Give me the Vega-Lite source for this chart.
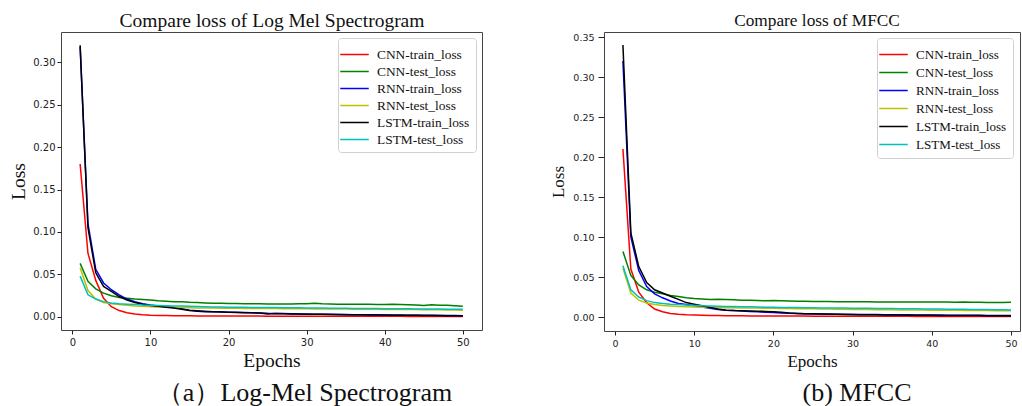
{
"$schema": "https://vega.github.io/schema/vega-lite/v6.json",
"background": "white",
"padding": {"left": 8, "top": 9, "right": 0, "bottom": 0},
"bounds": "flush",
"spacing": 122,
"resolve": {"legend": {"color": "independent"}, "scale": {"color": "independent"}},
"config": {
 "font": "Liberation Serif",
 "view": {"stroke": "#444", "strokeWidth": 1},
 "axis": {"grid": false, "domain": false, "labelFont": "DejaVu Sans", "labelColor": "#222", "tickColor": "#222", "titleFont": "Liberation Serif", "titleFontWeight": "normal", "titleColor": "#111"},
 "title": {"font": "Liberation Serif", "fontWeight": "normal", "color": "#111"},
 "legend": {"symbolType": "M-1.5,0H1.5", "symbolSize": 361, "symbolStrokeWidth": 1.5, "labelFont": "Liberation Serif", "labelColor": "#111", "labelOffset": 12, "strokeColor": "#d0d0d0", "fillColor": "#ffffff", "cornerRadius": 3, "padding": 6, "rowPadding": 0, "offset": 6, "orient": "top-right", "title": null}
},
"datasets": {
"mel": [
{"e":1,"s":"CNN-train_loss","v":0.18},{"e":2,"s":"CNN-train_loss","v":0.075},{"e":3,"s":"CNN-train_loss","v":0.043},{"e":4,"s":"CNN-train_loss","v":0.022},{"e":5,"s":"CNN-train_loss","v":0.012},{"e":6,"s":"CNN-train_loss","v":0.0075},{"e":7,"s":"CNN-train_loss","v":0.005},{"e":8,"s":"CNN-train_loss","v":0.0035},{"e":9,"s":"CNN-train_loss","v":0.0025},{"e":10,"s":"CNN-train_loss","v":0.002},
{"e":11,"s":"CNN-train_loss","v":0.0018},{"e":12,"s":"CNN-train_loss","v":0.0016},{"e":13,"s":"CNN-train_loss","v":0.0015},{"e":14,"s":"CNN-train_loss","v":0.0014},{"e":15,"s":"CNN-train_loss","v":0.0013},{"e":16,"s":"CNN-train_loss","v":0.0012},{"e":17,"s":"CNN-train_loss","v":0.0012},{"e":18,"s":"CNN-train_loss","v":0.0011},{"e":19,"s":"CNN-train_loss","v":0.0011},{"e":20,"s":"CNN-train_loss","v":0.001},
{"e":21,"s":"CNN-train_loss","v":0.001},{"e":22,"s":"CNN-train_loss","v":0.001},{"e":23,"s":"CNN-train_loss","v":0.00095},{"e":24,"s":"CNN-train_loss","v":0.00095},{"e":25,"s":"CNN-train_loss","v":0.0009},{"e":26,"s":"CNN-train_loss","v":0.0009},{"e":27,"s":"CNN-train_loss","v":0.0009},{"e":28,"s":"CNN-train_loss","v":0.00085},{"e":29,"s":"CNN-train_loss","v":0.00085},{"e":30,"s":"CNN-train_loss","v":0.0008},
{"e":31,"s":"CNN-train_loss","v":0.0008},{"e":32,"s":"CNN-train_loss","v":0.0008},{"e":33,"s":"CNN-train_loss","v":0.00078},{"e":34,"s":"CNN-train_loss","v":0.00076},{"e":35,"s":"CNN-train_loss","v":0.00075},{"e":36,"s":"CNN-train_loss","v":0.00074},{"e":37,"s":"CNN-train_loss","v":0.00072},{"e":38,"s":"CNN-train_loss","v":0.0007},{"e":39,"s":"CNN-train_loss","v":0.0007},{"e":40,"s":"CNN-train_loss","v":0.00068},
{"e":41,"s":"CNN-train_loss","v":0.00066},{"e":42,"s":"CNN-train_loss","v":0.00065},{"e":43,"s":"CNN-train_loss","v":0.00064},{"e":44,"s":"CNN-train_loss","v":0.00062},{"e":45,"s":"CNN-train_loss","v":0.0006},{"e":46,"s":"CNN-train_loss","v":0.0006},{"e":47,"s":"CNN-train_loss","v":0.00058},{"e":48,"s":"CNN-train_loss","v":0.00056},{"e":49,"s":"CNN-train_loss","v":0.00055},{"e":50,"s":"CNN-train_loss","v":0.0005},
{"e":1,"s":"CNN-test_loss","v":0.063},{"e":2,"s":"CNN-test_loss","v":0.042},{"e":3,"s":"CNN-test_loss","v":0.033},{"e":4,"s":"CNN-test_loss","v":0.028},{"e":5,"s":"CNN-test_loss","v":0.025},{"e":6,"s":"CNN-test_loss","v":0.023},{"e":7,"s":"CNN-test_loss","v":0.022},{"e":8,"s":"CNN-test_loss","v":0.021},{"e":9,"s":"CNN-test_loss","v":0.0205},{"e":10,"s":"CNN-test_loss","v":0.0198},
{"e":11,"s":"CNN-test_loss","v":0.019},{"e":12,"s":"CNN-test_loss","v":0.0185},{"e":13,"s":"CNN-test_loss","v":0.018},{"e":14,"s":"CNN-test_loss","v":0.0178},{"e":15,"s":"CNN-test_loss","v":0.0172},{"e":16,"s":"CNN-test_loss","v":0.017},{"e":17,"s":"CNN-test_loss","v":0.0165},{"e":18,"s":"CNN-test_loss","v":0.0162},{"e":19,"s":"CNN-test_loss","v":0.016},{"e":20,"s":"CNN-test_loss","v":0.0158},
{"e":21,"s":"CNN-test_loss","v":0.0157},{"e":22,"s":"CNN-test_loss","v":0.0156},{"e":23,"s":"CNN-test_loss","v":0.0156},{"e":24,"s":"CNN-test_loss","v":0.0155},{"e":25,"s":"CNN-test_loss","v":0.0152},{"e":26,"s":"CNN-test_loss","v":0.0153},{"e":27,"s":"CNN-test_loss","v":0.0152},{"e":28,"s":"CNN-test_loss","v":0.0152},{"e":29,"s":"CNN-test_loss","v":0.0154},{"e":30,"s":"CNN-test_loss","v":0.0155},
{"e":31,"s":"CNN-test_loss","v":0.0162},{"e":32,"s":"CNN-test_loss","v":0.0155},{"e":33,"s":"CNN-test_loss","v":0.0152},{"e":34,"s":"CNN-test_loss","v":0.015},{"e":35,"s":"CNN-test_loss","v":0.0148},{"e":36,"s":"CNN-test_loss","v":0.0149},{"e":37,"s":"CNN-test_loss","v":0.015},{"e":38,"s":"CNN-test_loss","v":0.0148},{"e":39,"s":"CNN-test_loss","v":0.0147},{"e":40,"s":"CNN-test_loss","v":0.0146},
{"e":41,"s":"CNN-test_loss","v":0.0148},{"e":42,"s":"CNN-test_loss","v":0.0145},{"e":43,"s":"CNN-test_loss","v":0.0143},{"e":44,"s":"CNN-test_loss","v":0.014},{"e":45,"s":"CNN-test_loss","v":0.0135},{"e":46,"s":"CNN-test_loss","v":0.0142},{"e":47,"s":"CNN-test_loss","v":0.0138},{"e":48,"s":"CNN-test_loss","v":0.0136},{"e":49,"s":"CNN-test_loss","v":0.0132},{"e":50,"s":"CNN-test_loss","v":0.0125},
{"e":1,"s":"RNN-train_loss","v":0.318},{"e":2,"s":"RNN-train_loss","v":0.11},{"e":3,"s":"RNN-train_loss","v":0.056},{"e":4,"s":"RNN-train_loss","v":0.04},{"e":5,"s":"RNN-train_loss","v":0.032},{"e":6,"s":"RNN-train_loss","v":0.026},{"e":7,"s":"RNN-train_loss","v":0.021},{"e":8,"s":"RNN-train_loss","v":0.018},{"e":9,"s":"RNN-train_loss","v":0.0155},{"e":10,"s":"RNN-train_loss","v":0.014},
{"e":11,"s":"RNN-train_loss","v":0.013},{"e":12,"s":"RNN-train_loss","v":0.012},{"e":13,"s":"RNN-train_loss","v":0.011},{"e":14,"s":"RNN-train_loss","v":0.0095},{"e":15,"s":"RNN-train_loss","v":0.008},{"e":16,"s":"RNN-train_loss","v":0.0072},{"e":17,"s":"RNN-train_loss","v":0.0066},{"e":18,"s":"RNN-train_loss","v":0.0062},{"e":19,"s":"RNN-train_loss","v":0.006},{"e":20,"s":"RNN-train_loss","v":0.0056},
{"e":21,"s":"RNN-train_loss","v":0.0054},{"e":22,"s":"RNN-train_loss","v":0.0052},{"e":23,"s":"RNN-train_loss","v":0.005},{"e":24,"s":"RNN-train_loss","v":0.0047},{"e":25,"s":"RNN-train_loss","v":0.0042},{"e":26,"s":"RNN-train_loss","v":0.0041},{"e":27,"s":"RNN-train_loss","v":0.0039},{"e":28,"s":"RNN-train_loss","v":0.0036},{"e":29,"s":"RNN-train_loss","v":0.0034},{"e":30,"s":"RNN-train_loss","v":0.0033},
{"e":31,"s":"RNN-train_loss","v":0.0032},{"e":32,"s":"RNN-train_loss","v":0.0031},{"e":33,"s":"RNN-train_loss","v":0.003},{"e":34,"s":"RNN-train_loss","v":0.0029},{"e":35,"s":"RNN-train_loss","v":0.0028},{"e":36,"s":"RNN-train_loss","v":0.0027},{"e":37,"s":"RNN-train_loss","v":0.0027},{"e":38,"s":"RNN-train_loss","v":0.0026},{"e":39,"s":"RNN-train_loss","v":0.0025},{"e":40,"s":"RNN-train_loss","v":0.0024},
{"e":41,"s":"RNN-train_loss","v":0.0023},{"e":42,"s":"RNN-train_loss","v":0.0022},{"e":43,"s":"RNN-train_loss","v":0.0021},{"e":44,"s":"RNN-train_loss","v":0.002},{"e":45,"s":"RNN-train_loss","v":0.0019},{"e":46,"s":"RNN-train_loss","v":0.0019},{"e":47,"s":"RNN-train_loss","v":0.0018},{"e":48,"s":"RNN-train_loss","v":0.0017},{"e":49,"s":"RNN-train_loss","v":0.0016},{"e":50,"s":"RNN-train_loss","v":0.0015},
{"e":1,"s":"RNN-test_loss","v":0.058},{"e":2,"s":"RNN-test_loss","v":0.031},{"e":3,"s":"RNN-test_loss","v":0.021},{"e":4,"s":"RNN-test_loss","v":0.017},{"e":5,"s":"RNN-test_loss","v":0.0155},{"e":6,"s":"RNN-test_loss","v":0.0145},{"e":7,"s":"RNN-test_loss","v":0.0138},{"e":8,"s":"RNN-test_loss","v":0.013},{"e":9,"s":"RNN-test_loss","v":0.0125},{"e":10,"s":"RNN-test_loss","v":0.012},
{"e":11,"s":"RNN-test_loss","v":0.0118},{"e":12,"s":"RNN-test_loss","v":0.0115},{"e":13,"s":"RNN-test_loss","v":0.0112},{"e":14,"s":"RNN-test_loss","v":0.011},{"e":15,"s":"RNN-test_loss","v":0.0108},{"e":16,"s":"RNN-test_loss","v":0.0106},{"e":17,"s":"RNN-test_loss","v":0.0105},{"e":18,"s":"RNN-test_loss","v":0.0104},{"e":19,"s":"RNN-test_loss","v":0.0103},{"e":20,"s":"RNN-test_loss","v":0.0102},
{"e":21,"s":"RNN-test_loss","v":0.0101},{"e":22,"s":"RNN-test_loss","v":0.01},{"e":23,"s":"RNN-test_loss","v":0.01},{"e":24,"s":"RNN-test_loss","v":0.0099},{"e":25,"s":"RNN-test_loss","v":0.0098},{"e":26,"s":"RNN-test_loss","v":0.0098},{"e":27,"s":"RNN-test_loss","v":0.0097},{"e":28,"s":"RNN-test_loss","v":0.0096},{"e":29,"s":"RNN-test_loss","v":0.0096},{"e":30,"s":"RNN-test_loss","v":0.0095},
{"e":31,"s":"RNN-test_loss","v":0.0094},{"e":32,"s":"RNN-test_loss","v":0.0094},{"e":33,"s":"RNN-test_loss","v":0.0093},{"e":34,"s":"RNN-test_loss","v":0.0092},{"e":35,"s":"RNN-test_loss","v":0.0092},{"e":36,"s":"RNN-test_loss","v":0.0091},{"e":37,"s":"RNN-test_loss","v":0.009},{"e":38,"s":"RNN-test_loss","v":0.009},{"e":39,"s":"RNN-test_loss","v":0.0089},{"e":40,"s":"RNN-test_loss","v":0.0088},
{"e":41,"s":"RNN-test_loss","v":0.0088},{"e":42,"s":"RNN-test_loss","v":0.0087},{"e":43,"s":"RNN-test_loss","v":0.0086},{"e":44,"s":"RNN-test_loss","v":0.0086},{"e":45,"s":"RNN-test_loss","v":0.0085},{"e":46,"s":"RNN-test_loss","v":0.0084},{"e":47,"s":"RNN-test_loss","v":0.0083},{"e":48,"s":"RNN-test_loss","v":0.0082},{"e":49,"s":"RNN-test_loss","v":0.0081},{"e":50,"s":"RNN-test_loss","v":0.008},
{"e":1,"s":"LSTM-train_loss","v":0.32},{"e":2,"s":"LSTM-train_loss","v":0.105},{"e":3,"s":"LSTM-train_loss","v":0.052},{"e":4,"s":"LSTM-train_loss","v":0.036},{"e":5,"s":"LSTM-train_loss","v":0.03},{"e":6,"s":"LSTM-train_loss","v":0.024},{"e":7,"s":"LSTM-train_loss","v":0.02},{"e":8,"s":"LSTM-train_loss","v":0.017},{"e":9,"s":"LSTM-train_loss","v":0.015},{"e":10,"s":"LSTM-train_loss","v":0.0135},
{"e":11,"s":"LSTM-train_loss","v":0.0125},{"e":12,"s":"LSTM-train_loss","v":0.0115},{"e":13,"s":"LSTM-train_loss","v":0.0105},{"e":14,"s":"LSTM-train_loss","v":0.009},{"e":15,"s":"LSTM-train_loss","v":0.0075},{"e":16,"s":"LSTM-train_loss","v":0.0068},{"e":17,"s":"LSTM-train_loss","v":0.0062},{"e":18,"s":"LSTM-train_loss","v":0.006},{"e":19,"s":"LSTM-train_loss","v":0.0058},{"e":20,"s":"LSTM-train_loss","v":0.0055},
{"e":21,"s":"LSTM-train_loss","v":0.0052},{"e":22,"s":"LSTM-train_loss","v":0.005},{"e":23,"s":"LSTM-train_loss","v":0.0048},{"e":24,"s":"LSTM-train_loss","v":0.0045},{"e":25,"s":"LSTM-train_loss","v":0.0035},{"e":26,"s":"LSTM-train_loss","v":0.004},{"e":27,"s":"LSTM-train_loss","v":0.0038},{"e":28,"s":"LSTM-train_loss","v":0.0035},{"e":29,"s":"LSTM-train_loss","v":0.0033},{"e":30,"s":"LSTM-train_loss","v":0.0032},
{"e":31,"s":"LSTM-train_loss","v":0.0031},{"e":32,"s":"LSTM-train_loss","v":0.003},{"e":33,"s":"LSTM-train_loss","v":0.0029},{"e":34,"s":"LSTM-train_loss","v":0.0028},{"e":35,"s":"LSTM-train_loss","v":0.0027},{"e":36,"s":"LSTM-train_loss","v":0.0026},{"e":37,"s":"LSTM-train_loss","v":0.0025},{"e":38,"s":"LSTM-train_loss","v":0.0024},{"e":39,"s":"LSTM-train_loss","v":0.0023},{"e":40,"s":"LSTM-train_loss","v":0.0022},
{"e":41,"s":"LSTM-train_loss","v":0.0021},{"e":42,"s":"LSTM-train_loss","v":0.002},{"e":43,"s":"LSTM-train_loss","v":0.002},{"e":44,"s":"LSTM-train_loss","v":0.0019},{"e":45,"s":"LSTM-train_loss","v":0.0018},{"e":46,"s":"LSTM-train_loss","v":0.0017},{"e":47,"s":"LSTM-train_loss","v":0.0016},{"e":48,"s":"LSTM-train_loss","v":0.0015},{"e":49,"s":"LSTM-train_loss","v":0.0014},{"e":50,"s":"LSTM-train_loss","v":0.0013},
{"e":1,"s":"LSTM-test_loss","v":0.048},{"e":2,"s":"LSTM-test_loss","v":0.026},{"e":3,"s":"LSTM-test_loss","v":0.021},{"e":4,"s":"LSTM-test_loss","v":0.018},{"e":5,"s":"LSTM-test_loss","v":0.0165},{"e":6,"s":"LSTM-test_loss","v":0.0155},{"e":7,"s":"LSTM-test_loss","v":0.015},{"e":8,"s":"LSTM-test_loss","v":0.0145},{"e":9,"s":"LSTM-test_loss","v":0.014},{"e":10,"s":"LSTM-test_loss","v":0.0138},
{"e":11,"s":"LSTM-test_loss","v":0.0135},{"e":12,"s":"LSTM-test_loss","v":0.0132},{"e":13,"s":"LSTM-test_loss","v":0.013},{"e":14,"s":"LSTM-test_loss","v":0.0128},{"e":15,"s":"LSTM-test_loss","v":0.0125},{"e":16,"s":"LSTM-test_loss","v":0.0122},{"e":17,"s":"LSTM-test_loss","v":0.012},{"e":18,"s":"LSTM-test_loss","v":0.0118},{"e":19,"s":"LSTM-test_loss","v":0.0116},{"e":20,"s":"LSTM-test_loss","v":0.0115},
{"e":21,"s":"LSTM-test_loss","v":0.0114},{"e":22,"s":"LSTM-test_loss","v":0.0113},{"e":23,"s":"LSTM-test_loss","v":0.0112},{"e":24,"s":"LSTM-test_loss","v":0.0111},{"e":25,"s":"LSTM-test_loss","v":0.011},{"e":26,"s":"LSTM-test_loss","v":0.011},{"e":27,"s":"LSTM-test_loss","v":0.0109},{"e":28,"s":"LSTM-test_loss","v":0.0108},{"e":29,"s":"LSTM-test_loss","v":0.0107},{"e":30,"s":"LSTM-test_loss","v":0.0106},
{"e":31,"s":"LSTM-test_loss","v":0.0105},{"e":32,"s":"LSTM-test_loss","v":0.0104},{"e":33,"s":"LSTM-test_loss","v":0.0103},{"e":34,"s":"LSTM-test_loss","v":0.0102},{"e":35,"s":"LSTM-test_loss","v":0.0101},{"e":36,"s":"LSTM-test_loss","v":0.01},{"e":37,"s":"LSTM-test_loss","v":0.01},{"e":38,"s":"LSTM-test_loss","v":0.0099},{"e":39,"s":"LSTM-test_loss","v":0.0098},{"e":40,"s":"LSTM-test_loss","v":0.0097},
{"e":41,"s":"LSTM-test_loss","v":0.0096},{"e":42,"s":"LSTM-test_loss","v":0.0096},{"e":43,"s":"LSTM-test_loss","v":0.0095},{"e":44,"s":"LSTM-test_loss","v":0.0094},{"e":45,"s":"LSTM-test_loss","v":0.0093},{"e":46,"s":"LSTM-test_loss","v":0.0093},{"e":47,"s":"LSTM-test_loss","v":0.0092},{"e":48,"s":"LSTM-test_loss","v":0.0091},{"e":49,"s":"LSTM-test_loss","v":0.009},{"e":50,"s":"LSTM-test_loss","v":0.009}
],
"mfcc": [
{"e":1,"s":"CNN-train_loss","v":0.21},{"e":2,"s":"CNN-train_loss","v":0.06},{"e":3,"s":"CNN-train_loss","v":0.031},{"e":4,"s":"CNN-train_loss","v":0.018},{"e":5,"s":"CNN-train_loss","v":0.01},{"e":6,"s":"CNN-train_loss","v":0.0065},{"e":7,"s":"CNN-train_loss","v":0.0045},{"e":8,"s":"CNN-train_loss","v":0.0035},{"e":9,"s":"CNN-train_loss","v":0.0028},{"e":10,"s":"CNN-train_loss","v":0.0024},
{"e":11,"s":"CNN-train_loss","v":0.0022},{"e":12,"s":"CNN-train_loss","v":0.002},{"e":13,"s":"CNN-train_loss","v":0.0018},{"e":14,"s":"CNN-train_loss","v":0.0017},{"e":15,"s":"CNN-train_loss","v":0.0016},{"e":16,"s":"CNN-train_loss","v":0.0015},{"e":17,"s":"CNN-train_loss","v":0.0014},{"e":18,"s":"CNN-train_loss","v":0.0013},{"e":19,"s":"CNN-train_loss","v":0.0013},{"e":20,"s":"CNN-train_loss","v":0.0012},
{"e":21,"s":"CNN-train_loss","v":0.0012},{"e":22,"s":"CNN-train_loss","v":0.0011},{"e":23,"s":"CNN-train_loss","v":0.0011},{"e":24,"s":"CNN-train_loss","v":0.0011},{"e":25,"s":"CNN-train_loss","v":0.001},{"e":26,"s":"CNN-train_loss","v":0.001},{"e":27,"s":"CNN-train_loss","v":0.001},{"e":28,"s":"CNN-train_loss","v":0.00095},{"e":29,"s":"CNN-train_loss","v":0.00092},{"e":30,"s":"CNN-train_loss","v":0.0009},
{"e":31,"s":"CNN-train_loss","v":0.0009},{"e":32,"s":"CNN-train_loss","v":0.00088},{"e":33,"s":"CNN-train_loss","v":0.00086},{"e":34,"s":"CNN-train_loss","v":0.00085},{"e":35,"s":"CNN-train_loss","v":0.00084},{"e":36,"s":"CNN-train_loss","v":0.00082},{"e":37,"s":"CNN-train_loss","v":0.0008},{"e":38,"s":"CNN-train_loss","v":0.00078},{"e":39,"s":"CNN-train_loss","v":0.00076},{"e":40,"s":"CNN-train_loss","v":0.00075},
{"e":41,"s":"CNN-train_loss","v":0.00074},{"e":42,"s":"CNN-train_loss","v":0.00072},{"e":43,"s":"CNN-train_loss","v":0.0007},{"e":44,"s":"CNN-train_loss","v":0.00068},{"e":45,"s":"CNN-train_loss","v":0.00066},{"e":46,"s":"CNN-train_loss","v":0.00065},{"e":47,"s":"CNN-train_loss","v":0.00064},{"e":48,"s":"CNN-train_loss","v":0.00062},{"e":49,"s":"CNN-train_loss","v":0.0006},{"e":50,"s":"CNN-train_loss","v":0.0006},
{"e":1,"s":"CNN-test_loss","v":0.082},{"e":2,"s":"CNN-test_loss","v":0.052},{"e":3,"s":"CNN-test_loss","v":0.04},{"e":4,"s":"CNN-test_loss","v":0.034},{"e":5,"s":"CNN-test_loss","v":0.031},{"e":6,"s":"CNN-test_loss","v":0.029},{"e":7,"s":"CNN-test_loss","v":0.027},{"e":8,"s":"CNN-test_loss","v":0.0255},{"e":9,"s":"CNN-test_loss","v":0.024},{"e":10,"s":"CNN-test_loss","v":0.023},
{"e":11,"s":"CNN-test_loss","v":0.0225},{"e":12,"s":"CNN-test_loss","v":0.022},{"e":13,"s":"CNN-test_loss","v":0.0222},{"e":14,"s":"CNN-test_loss","v":0.022},{"e":15,"s":"CNN-test_loss","v":0.0215},{"e":16,"s":"CNN-test_loss","v":0.021},{"e":17,"s":"CNN-test_loss","v":0.0208},{"e":18,"s":"CNN-test_loss","v":0.0205},{"e":19,"s":"CNN-test_loss","v":0.0202},{"e":20,"s":"CNN-test_loss","v":0.0205},
{"e":21,"s":"CNN-test_loss","v":0.0203},{"e":22,"s":"CNN-test_loss","v":0.02},{"e":23,"s":"CNN-test_loss","v":0.0198},{"e":24,"s":"CNN-test_loss","v":0.0197},{"e":25,"s":"CNN-test_loss","v":0.0195},{"e":26,"s":"CNN-test_loss","v":0.0194},{"e":27,"s":"CNN-test_loss","v":0.0193},{"e":28,"s":"CNN-test_loss","v":0.0192},{"e":29,"s":"CNN-test_loss","v":0.0191},{"e":30,"s":"CNN-test_loss","v":0.019},
{"e":31,"s":"CNN-test_loss","v":0.0191},{"e":32,"s":"CNN-test_loss","v":0.019},{"e":33,"s":"CNN-test_loss","v":0.0189},{"e":34,"s":"CNN-test_loss","v":0.0189},{"e":35,"s":"CNN-test_loss","v":0.0188},{"e":36,"s":"CNN-test_loss","v":0.0189},{"e":37,"s":"CNN-test_loss","v":0.0188},{"e":38,"s":"CNN-test_loss","v":0.0187},{"e":39,"s":"CNN-test_loss","v":0.0187},{"e":40,"s":"CNN-test_loss","v":0.0186},
{"e":41,"s":"CNN-test_loss","v":0.0187},{"e":42,"s":"CNN-test_loss","v":0.0186},{"e":43,"s":"CNN-test_loss","v":0.0185},{"e":44,"s":"CNN-test_loss","v":0.0186},{"e":45,"s":"CNN-test_loss","v":0.0184},{"e":46,"s":"CNN-test_loss","v":0.0183},{"e":47,"s":"CNN-test_loss","v":0.0182},{"e":48,"s":"CNN-test_loss","v":0.0181},{"e":49,"s":"CNN-test_loss","v":0.0182},{"e":50,"s":"CNN-test_loss","v":0.0183},
{"e":1,"s":"RNN-train_loss","v":0.32},{"e":2,"s":"RNN-train_loss","v":0.1},{"e":3,"s":"RNN-train_loss","v":0.058},{"e":4,"s":"RNN-train_loss","v":0.038},{"e":5,"s":"RNN-train_loss","v":0.029},{"e":6,"s":"RNN-train_loss","v":0.024},{"e":7,"s":"RNN-train_loss","v":0.02},{"e":8,"s":"RNN-train_loss","v":0.017},{"e":9,"s":"RNN-train_loss","v":0.0155},{"e":10,"s":"RNN-train_loss","v":0.014},
{"e":11,"s":"RNN-train_loss","v":0.0125},{"e":12,"s":"RNN-train_loss","v":0.011},{"e":13,"s":"RNN-train_loss","v":0.0095},{"e":14,"s":"RNN-train_loss","v":0.0085},{"e":15,"s":"RNN-train_loss","v":0.008},{"e":16,"s":"RNN-train_loss","v":0.0075},{"e":17,"s":"RNN-train_loss","v":0.007},{"e":18,"s":"RNN-train_loss","v":0.0065},{"e":19,"s":"RNN-train_loss","v":0.006},{"e":20,"s":"RNN-train_loss","v":0.0055},
{"e":21,"s":"RNN-train_loss","v":0.005},{"e":22,"s":"RNN-train_loss","v":0.0046},{"e":23,"s":"RNN-train_loss","v":0.0043},{"e":24,"s":"RNN-train_loss","v":0.004},{"e":25,"s":"RNN-train_loss","v":0.0038},{"e":26,"s":"RNN-train_loss","v":0.0036},{"e":27,"s":"RNN-train_loss","v":0.0035},{"e":28,"s":"RNN-train_loss","v":0.0034},{"e":29,"s":"RNN-train_loss","v":0.0033},{"e":30,"s":"RNN-train_loss","v":0.0032},
{"e":31,"s":"RNN-train_loss","v":0.0031},{"e":32,"s":"RNN-train_loss","v":0.003},{"e":33,"s":"RNN-train_loss","v":0.003},{"e":34,"s":"RNN-train_loss","v":0.0029},{"e":35,"s":"RNN-train_loss","v":0.0028},{"e":36,"s":"RNN-train_loss","v":0.0028},{"e":37,"s":"RNN-train_loss","v":0.0027},{"e":38,"s":"RNN-train_loss","v":0.0026},{"e":39,"s":"RNN-train_loss","v":0.0025},{"e":40,"s":"RNN-train_loss","v":0.0025},
{"e":41,"s":"RNN-train_loss","v":0.0024},{"e":42,"s":"RNN-train_loss","v":0.0023},{"e":43,"s":"RNN-train_loss","v":0.0023},{"e":44,"s":"RNN-train_loss","v":0.0022},{"e":45,"s":"RNN-train_loss","v":0.0021},{"e":46,"s":"RNN-train_loss","v":0.0021},{"e":47,"s":"RNN-train_loss","v":0.002},{"e":48,"s":"RNN-train_loss","v":0.002},{"e":49,"s":"RNN-train_loss","v":0.0019},{"e":50,"s":"RNN-train_loss","v":0.0019},
{"e":1,"s":"RNN-test_loss","v":0.061},{"e":2,"s":"RNN-test_loss","v":0.03},{"e":3,"s":"RNN-test_loss","v":0.021},{"e":4,"s":"RNN-test_loss","v":0.0175},{"e":5,"s":"RNN-test_loss","v":0.0155},{"e":6,"s":"RNN-test_loss","v":0.0145},{"e":7,"s":"RNN-test_loss","v":0.0138},{"e":8,"s":"RNN-test_loss","v":0.0132},{"e":9,"s":"RNN-test_loss","v":0.0128},{"e":10,"s":"RNN-test_loss","v":0.0125},
{"e":11,"s":"RNN-test_loss","v":0.0122},{"e":12,"s":"RNN-test_loss","v":0.012},{"e":13,"s":"RNN-test_loss","v":0.0118},{"e":14,"s":"RNN-test_loss","v":0.0116},{"e":15,"s":"RNN-test_loss","v":0.0115},{"e":16,"s":"RNN-test_loss","v":0.0114},{"e":17,"s":"RNN-test_loss","v":0.0112},{"e":18,"s":"RNN-test_loss","v":0.0111},{"e":19,"s":"RNN-test_loss","v":0.011},{"e":20,"s":"RNN-test_loss","v":0.0108},
{"e":21,"s":"RNN-test_loss","v":0.0107},{"e":22,"s":"RNN-test_loss","v":0.0106},{"e":23,"s":"RNN-test_loss","v":0.0104},{"e":24,"s":"RNN-test_loss","v":0.0103},{"e":25,"s":"RNN-test_loss","v":0.0102},{"e":26,"s":"RNN-test_loss","v":0.01},{"e":27,"s":"RNN-test_loss","v":0.0099},{"e":28,"s":"RNN-test_loss","v":0.0098},{"e":29,"s":"RNN-test_loss","v":0.0097},{"e":30,"s":"RNN-test_loss","v":0.0095},
{"e":31,"s":"RNN-test_loss","v":0.0094},{"e":32,"s":"RNN-test_loss","v":0.0093},{"e":33,"s":"RNN-test_loss","v":0.0092},{"e":34,"s":"RNN-test_loss","v":0.0091},{"e":35,"s":"RNN-test_loss","v":0.009},{"e":36,"s":"RNN-test_loss","v":0.0089},{"e":37,"s":"RNN-test_loss","v":0.0088},{"e":38,"s":"RNN-test_loss","v":0.0087},{"e":39,"s":"RNN-test_loss","v":0.0086},{"e":40,"s":"RNN-test_loss","v":0.0085},
{"e":41,"s":"RNN-test_loss","v":0.0084},{"e":42,"s":"RNN-test_loss","v":0.0083},{"e":43,"s":"RNN-test_loss","v":0.0083},{"e":44,"s":"RNN-test_loss","v":0.0082},{"e":45,"s":"RNN-test_loss","v":0.0081},{"e":46,"s":"RNN-test_loss","v":0.008},{"e":47,"s":"RNN-test_loss","v":0.008},{"e":48,"s":"RNN-test_loss","v":0.0079},{"e":49,"s":"RNN-test_loss","v":0.0079},{"e":50,"s":"RNN-test_loss","v":0.0078},
{"e":1,"s":"LSTM-train_loss","v":0.34},{"e":2,"s":"LSTM-train_loss","v":0.105},{"e":3,"s":"LSTM-train_loss","v":0.063},{"e":4,"s":"LSTM-train_loss","v":0.043},{"e":5,"s":"LSTM-train_loss","v":0.034},{"e":6,"s":"LSTM-train_loss","v":0.03},{"e":7,"s":"LSTM-train_loss","v":0.026},{"e":8,"s":"LSTM-train_loss","v":0.022},{"e":9,"s":"LSTM-train_loss","v":0.018},{"e":10,"s":"LSTM-train_loss","v":0.016},
{"e":11,"s":"LSTM-train_loss","v":0.014},{"e":12,"s":"LSTM-train_loss","v":0.012},{"e":13,"s":"LSTM-train_loss","v":0.01},{"e":14,"s":"LSTM-train_loss","v":0.0085},{"e":15,"s":"LSTM-train_loss","v":0.008},{"e":16,"s":"LSTM-train_loss","v":0.0078},{"e":17,"s":"LSTM-train_loss","v":0.0075},{"e":18,"s":"LSTM-train_loss","v":0.0072},{"e":19,"s":"LSTM-train_loss","v":0.007},{"e":20,"s":"LSTM-train_loss","v":0.0065},
{"e":21,"s":"LSTM-train_loss","v":0.0058},{"e":22,"s":"LSTM-train_loss","v":0.005},{"e":23,"s":"LSTM-train_loss","v":0.0045},{"e":24,"s":"LSTM-train_loss","v":0.0042},{"e":25,"s":"LSTM-train_loss","v":0.004},{"e":26,"s":"LSTM-train_loss","v":0.0038},{"e":27,"s":"LSTM-train_loss","v":0.0036},{"e":28,"s":"LSTM-train_loss","v":0.0034},{"e":29,"s":"LSTM-train_loss","v":0.0032},{"e":30,"s":"LSTM-train_loss","v":0.003},
{"e":31,"s":"LSTM-train_loss","v":0.0029},{"e":32,"s":"LSTM-train_loss","v":0.0028},{"e":33,"s":"LSTM-train_loss","v":0.0027},{"e":34,"s":"LSTM-train_loss","v":0.0026},{"e":35,"s":"LSTM-train_loss","v":0.0025},{"e":36,"s":"LSTM-train_loss","v":0.0024},{"e":37,"s":"LSTM-train_loss","v":0.0023},{"e":38,"s":"LSTM-train_loss","v":0.0023},{"e":39,"s":"LSTM-train_loss","v":0.0022},{"e":40,"s":"LSTM-train_loss","v":0.0021},
{"e":41,"s":"LSTM-train_loss","v":0.002},{"e":42,"s":"LSTM-train_loss","v":0.002},{"e":43,"s":"LSTM-train_loss","v":0.0019},{"e":44,"s":"LSTM-train_loss","v":0.0019},{"e":45,"s":"LSTM-train_loss","v":0.0018},{"e":46,"s":"LSTM-train_loss","v":0.0018},{"e":47,"s":"LSTM-train_loss","v":0.0017},{"e":48,"s":"LSTM-train_loss","v":0.0017},{"e":49,"s":"LSTM-train_loss","v":0.0016},{"e":50,"s":"LSTM-train_loss","v":0.0016},
{"e":1,"s":"LSTM-test_loss","v":0.064},{"e":2,"s":"LSTM-test_loss","v":0.034},{"e":3,"s":"LSTM-test_loss","v":0.025},{"e":4,"s":"LSTM-test_loss","v":0.0205},{"e":5,"s":"LSTM-test_loss","v":0.018},{"e":6,"s":"LSTM-test_loss","v":0.017},{"e":7,"s":"LSTM-test_loss","v":0.016},{"e":8,"s":"LSTM-test_loss","v":0.0155},{"e":9,"s":"LSTM-test_loss","v":0.015},{"e":10,"s":"LSTM-test_loss","v":0.0145},
{"e":11,"s":"LSTM-test_loss","v":0.014},{"e":12,"s":"LSTM-test_loss","v":0.0138},{"e":13,"s":"LSTM-test_loss","v":0.0135},{"e":14,"s":"LSTM-test_loss","v":0.0132},{"e":15,"s":"LSTM-test_loss","v":0.013},{"e":16,"s":"LSTM-test_loss","v":0.0128},{"e":17,"s":"LSTM-test_loss","v":0.0127},{"e":18,"s":"LSTM-test_loss","v":0.0125},{"e":19,"s":"LSTM-test_loss","v":0.0123},{"e":20,"s":"LSTM-test_loss","v":0.0122},
{"e":21,"s":"LSTM-test_loss","v":0.012},{"e":22,"s":"LSTM-test_loss","v":0.0119},{"e":23,"s":"LSTM-test_loss","v":0.0118},{"e":24,"s":"LSTM-test_loss","v":0.0117},{"e":25,"s":"LSTM-test_loss","v":0.0115},{"e":26,"s":"LSTM-test_loss","v":0.0114},{"e":27,"s":"LSTM-test_loss","v":0.0113},{"e":28,"s":"LSTM-test_loss","v":0.0112},{"e":29,"s":"LSTM-test_loss","v":0.0111},{"e":30,"s":"LSTM-test_loss","v":0.011},
{"e":31,"s":"LSTM-test_loss","v":0.0109},{"e":32,"s":"LSTM-test_loss","v":0.0108},{"e":33,"s":"LSTM-test_loss","v":0.0107},{"e":34,"s":"LSTM-test_loss","v":0.0106},{"e":35,"s":"LSTM-test_loss","v":0.0105},{"e":36,"s":"LSTM-test_loss","v":0.0104},{"e":37,"s":"LSTM-test_loss","v":0.0103},{"e":38,"s":"LSTM-test_loss","v":0.0102},{"e":39,"s":"LSTM-test_loss","v":0.0101},{"e":40,"s":"LSTM-test_loss","v":0.01},
{"e":41,"s":"LSTM-test_loss","v":0.0099},{"e":42,"s":"LSTM-test_loss","v":0.0098},{"e":43,"s":"LSTM-test_loss","v":0.0097},{"e":44,"s":"LSTM-test_loss","v":0.0096},{"e":45,"s":"LSTM-test_loss","v":0.0095},{"e":46,"s":"LSTM-test_loss","v":0.0094},{"e":47,"s":"LSTM-test_loss","v":0.0093},{"e":48,"s":"LSTM-test_loss","v":0.0091},{"e":49,"s":"LSTM-test_loss","v":0.009},{"e":50,"s":"LSTM-test_loss","v":0.0088}
]
},
"hconcat": [
{
 "width": 421, "height": 298,
 "data": {"name": "mel"},
 "title": {"text": "（a）Log-Mel Spectrogram", "orient": "bottom", "font": "Liberation Serif", "fontWeight": "normal", "fontSize": 26, "dx": 33, "offset": 10},
 "resolve": {"axis": {"x": "independent"}},
 "layer": [
  {"mark": {"type": "line", "strokeWidth": 1.5},
   "encoding": {
    "x": {"field": "e", "type": "quantitative", "scale": {"domain": [-1.45, 52.45], "nice": false, "zero": false},
          "axis": {"values": [0, 10, 20, 30, 40, 50], "title": "Epochs", "titleFont": "Liberation Serif", "titleFontWeight": "normal", "titleFontSize": 19.5, "labelFontSize": 10, "tickSize": 4, "labelPadding": 3, "titlePadding": 4}},
    "y": {"field": "v", "type": "quantitative", "scale": {"domain": [-0.0154, 0.3355], "nice": false, "zero": false},
          "axis": {"values": [0, 0.05, 0.1, 0.15, 0.2, 0.25, 0.3], "format": ".2f", "title": "Loss", "titleFont": "Liberation Serif", "titleFontWeight": "normal", "titleFontSize": 19.5, "labelFontSize": 10, "tickSize": 4, "labelPadding": 2, "titlePadding": 4}},
    "color": {"field": "s", "type": "nominal",
              "scale": {"domain": ["CNN-train_loss", "CNN-test_loss", "RNN-train_loss", "RNN-test_loss", "LSTM-train_loss", "LSTM-test_loss"], "range": ["#ff0000", "#008000", "#0000ff", "#bfbf00", "#000000", "#00bfbf"]},
              "legend": {"labelFontSize": 13.4}}
   }},
  {"mark": {"type": "point", "opacity": 0},
   "encoding": {
    "x": {"field": "e", "type": "quantitative", "scale": {"domain": [-1.45, 52.45], "nice": false, "zero": false},
          "axis": {"orient": "top", "title": "Compare loss of Log Mel Spectrogram", "titleFont": "Liberation Serif", "titleFontWeight": "normal", "titleFontSize": 19.5, "labels": false, "ticks": false, "domain": false, "titlePadding": 6, "titleBaseline": "alphabetic"}}
   }}
 ]
},
{
 "width": 416, "height": 299,
 "data": {"name": "mfcc"},
 "title": {"text": "(b) MFCC", "orient": "bottom", "font": "Liberation Serif", "fontWeight": "normal", "fontSize": 26, "dx": 45, "offset": 10},
 "resolve": {"axis": {"x": "independent"}},
 "layer": [
  {"mark": {"type": "line", "strokeWidth": 1.5},
   "encoding": {
    "x": {"field": "e", "type": "quantitative", "scale": {"domain": [-1.39, 51.14], "nice": false, "zero": false},
          "axis": {"values": [0, 10, 20, 30, 40, 50], "title": "Epochs", "titleFont": "Liberation Serif", "titleFontWeight": "normal", "titleFontSize": 17, "labelFontSize": 9.5, "tickSize": 4, "labelPadding": 3, "titlePadding": 6}},
    "y": {"field": "v", "type": "quantitative", "scale": {"domain": [-0.0175, 0.3563], "nice": false, "zero": false},
          "axis": {"values": [0, 0.05, 0.1, 0.15, 0.2, 0.25, 0.3, 0.35], "format": ".2f", "title": "Loss", "titleFont": "Liberation Serif", "titleFontWeight": "normal", "titleFontSize": 17, "labelFontSize": 9.5, "tickSize": 6, "labelPadding": 4, "titlePadding": 5}},
    "color": {"field": "s", "type": "nominal",
              "scale": {"domain": ["CNN-train_loss", "CNN-test_loss", "RNN-train_loss", "RNN-test_loss", "LSTM-train_loss", "LSTM-test_loss"], "range": ["#ff0000", "#008000", "#0000ff", "#bfbf00", "#000000", "#00bfbf"]},
              "legend": {"labelFontSize": 13.1, "orient": "none", "legendX": 273, "legendY": 6}}
   }},
  {"mark": {"type": "point", "opacity": 0},
   "encoding": {
    "x": {"field": "e", "type": "quantitative", "scale": {"domain": [-1.39, 51.14], "nice": false, "zero": false},
          "axis": {"orient": "top", "title": "Compare loss of MFCC", "titleFont": "Liberation Serif", "titleFontWeight": "normal", "titleFontSize": 17.3, "titleX": 212.5, "labels": false, "ticks": false, "domain": false, "titlePadding": 7, "titleBaseline": "alphabetic"}}
   }}
 ]
}
]
}
